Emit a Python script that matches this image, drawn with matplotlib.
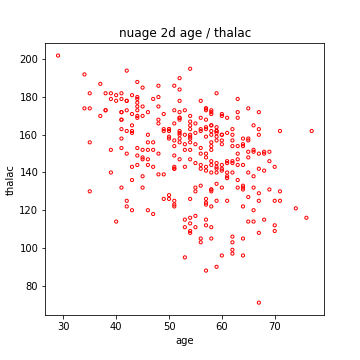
import matplotlib
matplotlib.use("Agg")
import matplotlib.pyplot as plt

# age / thalac, one entry per patient
age = [63, 37, 41, 56, 57, 57, 56, 44, 52, 57, 54, 48, 49, 64, 58, 50, 58, 66, 43, 69,
       59, 44, 42, 61, 40, 71, 59, 51, 65, 53, 41, 65, 44, 54, 51, 46, 54, 54, 65, 65,
       51, 48, 45, 53, 39, 52, 44, 47, 53, 53, 51, 66, 62, 44, 63, 52, 48, 45, 34, 57,
       71, 54, 52, 41, 58, 35, 51, 45, 44, 62, 54, 51, 29, 51, 43, 55, 51, 59, 52, 58,
       41, 45, 60, 52, 42, 67, 68, 46, 54, 58, 48, 57, 52, 54, 45, 53, 62, 52, 43, 53,
       42, 59, 63, 42, 50, 68, 69, 45, 50, 50, 64, 57, 64, 43, 55, 37, 41, 56, 46, 46,
       64, 59, 41, 54, 39, 34, 47, 67, 52, 74, 54, 49, 42, 41, 41, 49, 60, 62, 57, 64,
       51, 43, 42, 67, 76, 70, 44, 60, 44, 42, 66, 71, 64, 66, 39, 58, 47, 35, 58, 56,
       56, 55, 41, 38, 38, 67, 67, 62, 63, 53, 56, 48, 58, 58, 60, 40, 60, 64, 43, 57,
       55, 65, 61, 58, 50, 44, 60, 54, 50, 41, 51, 58, 54, 60, 60, 59, 46, 67, 62, 65,
       44, 60, 58, 68, 62, 52, 59, 60, 49, 59, 57, 61, 39, 61, 56, 43, 62, 63, 65, 48,
       63, 55, 65, 56, 54, 70, 62, 35, 59, 64, 47, 57, 55, 64, 70, 51, 58, 60, 77, 35,
       70, 59, 64, 57, 56, 48, 56, 66, 54, 69, 51, 43, 62, 67, 59, 45, 58, 50, 62, 38,
       66, 52, 53, 63, 54, 66, 55, 49, 54, 56, 46, 61, 67, 58, 47, 52, 58, 57, 58, 61,
       42, 52, 59, 40, 61, 46, 59, 57, 57, 55, 61, 58, 58, 67, 44, 63, 63, 59, 57, 45,
       68, 57, 57]
thalac = [150, 187, 172, 178, 163, 148, 153, 173, 162, 174, 160, 139, 171, 144, 162, 158, 172, 114, 171, 151,
          161, 179, 178, 137, 178, 162, 157, 123, 157, 152, 168, 140, 188, 152, 125, 160, 170, 165, 148, 151,
          142, 180, 148, 143, 182, 172, 180, 156, 115, 160, 149, 151, 146, 175, 172, 158, 186, 185, 174, 159,
          130, 156, 190, 132, 165, 182, 143, 175, 170, 163, 147, 154, 202, 186, 165, 161, 166, 164, 184, 154,
          179, 170, 160, 178, 122, 160, 151, 156, 158, 122, 175, 168, 169, 159, 138, 111, 157, 147, 162, 173,
          178, 145, 179, 194, 163, 115, 131, 152, 162, 159, 154, 173, 133, 161, 155, 170, 168, 162, 172, 152,
          122, 182, 172, 167, 179, 192, 143, 172, 169, 121, 163, 162, 162, 153, 163, 163, 96, 140, 126, 105,
          157, 181, 173, 142, 116, 143, 149, 171, 169, 150, 138, 125, 155, 152, 152, 131, 179, 174, 144, 163,
          169, 166, 182, 173, 173, 108, 129, 160, 147, 155, 142, 168, 160, 173, 132, 114, 160, 158, 120, 112,
          132, 114, 169, 165, 128, 153, 144, 109, 163, 158, 142, 131, 113, 142, 155, 140, 147, 163, 99, 158,
          177, 141, 111, 150, 145, 161, 142, 157, 139, 162, 150, 140, 140, 146, 144, 136, 97, 132, 127, 150,
          154, 111, 174, 133, 126, 125, 103, 130, 159, 131, 152, 124, 145, 96, 109, 173, 171, 170, 162, 156,
          112, 143, 132, 88, 105, 166, 150, 120, 195, 146, 122, 143, 106, 125, 125, 147, 130, 126, 154, 182,
          165, 160, 95, 169, 108, 132, 117, 126, 116, 103, 144, 145, 71, 156, 118, 168, 105, 141, 152, 125,
          125, 156, 134, 181, 138, 120, 162, 164, 143, 130, 161, 140, 146, 150, 144, 144, 136, 90, 123, 132,
          141, 115, 174]

fig = plt.figure(figsize=(5, 5), dpi=72)
plt.subplots_adjust(left=0.126, right=0.901, bottom=0.125, top=0.88)
plt.scatter(age, thalac, s=10, facecolors='none', edgecolors='red', linewidths=1)
plt.title("nuage 2d age / thalac")
plt.xlabel("age")
plt.ylabel("thalac")
plt.xticks([30, 40, 50, 60, 70])
plt.yticks([80, 100, 120, 140, 160, 180, 200])
plt.savefig("out.png", dpi=72)
